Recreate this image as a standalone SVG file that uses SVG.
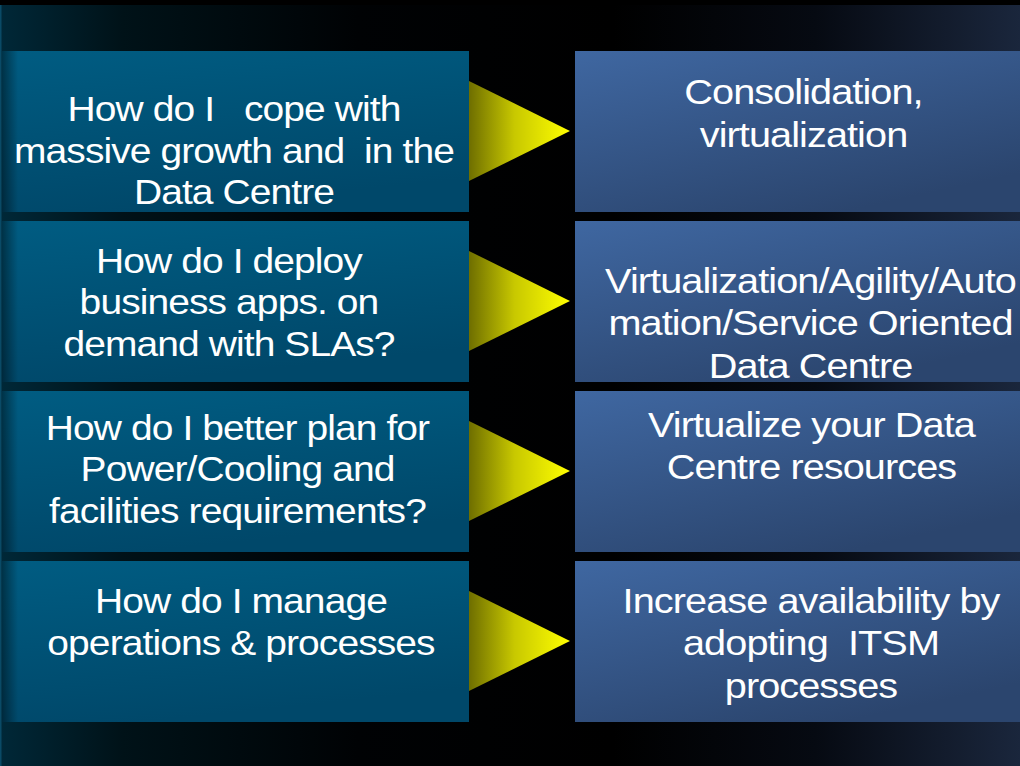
<svg xmlns="http://www.w3.org/2000/svg" width="1020" height="766" viewBox="0 0 1020 766" xml:space="preserve">
<defs>
<linearGradient id="bg" x1="0" y1="0" x2="1" y2="0">
<stop offset="0" stop-color="#002838"/>
<stop offset="0.12" stop-color="#001218"/>
<stop offset="0.35" stop-color="#000204"/>
<stop offset="0.6" stop-color="#000000"/>
<stop offset="0.8" stop-color="#060a12"/>
<stop offset="1" stop-color="#1a263c"/>
</linearGradient>
<linearGradient id="lbox" x1="0" y1="0" x2="0.3" y2="1">
<stop offset="0" stop-color="#005c82"/>
<stop offset="1" stop-color="#00486a"/>
</linearGradient>
<linearGradient id="rbox" x1="0" y1="0" x2="0.6" y2="1">
<stop offset="0" stop-color="#3f67a1"/>
<stop offset="1" stop-color="#2b456e"/>
</linearGradient>
<linearGradient id="lshade" x1="0" y1="0" x2="1" y2="0">
<stop offset="0" stop-color="#000" stop-opacity="0.45"/>
<stop offset="1" stop-color="#000" stop-opacity="0"/>
</linearGradient>
<linearGradient id="arr" x1="0" y1="0" x2="1" y2="0">
<stop offset="0" stop-color="#6e6e00"/>
<stop offset="0.45" stop-color="#c8c800"/>
<stop offset="1" stop-color="#ffff00"/>
</linearGradient>
<style>
.t{font-family:"Liberation Sans",Arial,sans-serif;font-size:34.5px;letter-spacing:-0.8px;fill:#fff;text-anchor:middle;white-space:pre;}
.l{fill:url(#lbox);}
.r{fill:url(#rbox);}
.s{fill:url(#lshade);}
.a{fill:url(#arr);}
</style>
</defs>
<rect x="0" y="0" width="1020" height="766" fill="#000"/>
<rect x="0" y="5" width="1020" height="761" fill="url(#bg)"/>
<rect x="0" y="5" width="1.5" height="761" fill="#0a4a66"/>

<g id="connectors">
<polygon class="a" points="469,81 570,131 469,181"/>
<polygon class="a" points="469,251 570,301 469,351"/>
<polygon class="a" points="469,421 570,471 469,521"/>
<polygon class="a" points="469,591 570,641 469,691"/>
</g>

<g id="q1">
<rect class="l" x="2" y="51" width="467" height="161"/>
<rect class="s" x="2" y="51" width="16" height="161"/>
<g transform="translate(234,0) scale(1.13,1)">
<text class="t" x="0" y="121">How do I   cope with</text>
<text class="t" x="0" y="163">massive growth and  in the</text>
<text class="t" x="0" y="204">Data Centre</text>
</g>
</g>
<g id="q2">
<rect class="l" x="2" y="221" width="467" height="161"/>
<rect class="s" x="2" y="221" width="16" height="161"/>
<g transform="translate(229,0) scale(1.13,1)">
<text class="t" x="0" y="273">How do I deploy</text>
<text class="t" x="0" y="314">business apps. on</text>
<text class="t" x="0" y="356">demand with SLAs?</text>
</g>
</g>
<g id="q3">
<rect class="l" x="2" y="391" width="467" height="161"/>
<rect class="s" x="2" y="391" width="16" height="161"/>
<g transform="translate(237.5,0) scale(1.13,1)">
<text class="t" x="0" y="440">How do I better plan for</text>
<text class="t" x="0" y="481">Power/Cooling and</text>
<text class="t" x="0" y="523">facilities requirements?</text>
</g>
</g>
<g id="q4">
<rect class="l" x="2" y="561" width="467" height="161"/>
<rect class="s" x="2" y="561" width="16" height="161"/>
<g transform="translate(241,0) scale(1.13,1)">
<text class="t" x="0" y="613">How do I manage</text>
<text class="t" x="0" y="655">operations &amp; processes</text>
</g>
</g>

<g id="a1">
<rect class="r" x="575" y="51" width="445" height="161"/>
<g transform="translate(803.5,0) scale(1.15,1)">
<text class="t" x="0" y="104">Consolidation,</text>
<text class="t" x="0" y="147">virtualization</text>
</g>
</g>
<g id="a2">
<rect class="r" x="575" y="221" width="445" height="161"/>
<g transform="translate(810.5,0) scale(1.15,1)">
<text class="t" x="0" y="293">Virtualization/Agility/Auto</text>
<text class="t" x="0" y="335">mation/Service Oriented</text>
<text class="t" x="0" y="378">Data Centre</text>
</g>
</g>
<g id="a3">
<rect class="r" x="575" y="391" width="445" height="161"/>
<g transform="translate(811.5,0) scale(1.15,1)">
<text class="t" x="0" y="437">Virtualize your Data</text>
<text class="t" x="0" y="479">Centre resources</text>
</g>
</g>
<g id="a4">
<rect class="r" x="575" y="561" width="445" height="161"/>
<g transform="translate(811,0) scale(1.15,1)">
<text class="t" x="0" y="613">Increase availability by</text>
<text class="t" x="0" y="655">adopting  ITSM</text>
<text class="t" x="0" y="698">processes</text>
</g>
</g>
</svg>
